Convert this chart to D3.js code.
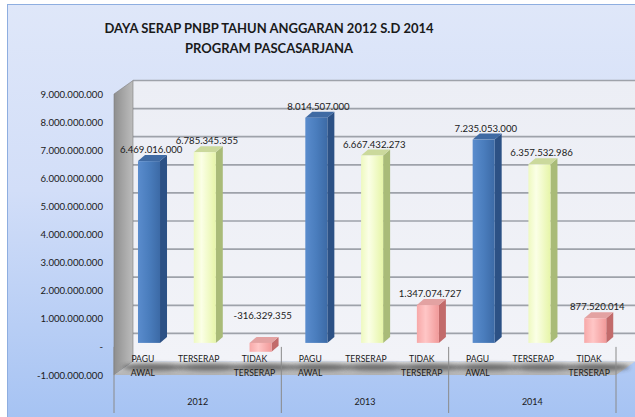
<!DOCTYPE html>
<html>
<head>
<meta charset="utf-8">
<script src="https://cdn.jsdelivr.net/npm/d3@7/dist/d3.min.js"></script>
<style>
  html, body { margin: 0; padding: 0; background: #ffffff; }
  svg { display: block; }
  text { font-family: Lato, "Open Sans", sans-serif; fill: #1a1a1a; }
</style>
</head>
<body>
<svg id="chart" width="635" height="417"></svg>
<script>
// --- data ---------------------------------------------------------------
const years = ["2012", "2013", "2014"];
const categories = ["PAGU AWAL", "TERSERAP", "TIDAK TERSERAP"];
const paguAwal = [6469016000, 8014507000, 7235053000];
const terserap = [6785345355, 6667432273, 6357532986];
const tidakTerserap = [-316329355, 1347074727, 877520014];
const yTicks = [-1e9, 0, 1e9, 2e9, 3e9, 4e9, 5e9, 6e9, 7e9, 8e9, 9e9];
const titleLines = ["DAYA SERAP PNBP TAHUN ANGGARAN 2012 S.D 2014", "PROGRAM PASCASARJANA"];

// --- layout -------------------------------------------------------------
const W = 635, H = 417;
const X0 = 114, X1 = 616;     // front plane of the plot
const DX = 19, DY = -13.5;    // depth of the 3D walls
const BDX = 7, BDY = -6;      // depth of each column
const FX = 0, FY = -4;        // columns sit slightly behind the front plane

const svg = d3.select("#chart");
const defs = svg.append("defs");

const locale = d3.formatLocale({ decimal: ",", thousands: ".", grouping: [3], currency: ["", ""], minus: "-" });
const fmt = locale.format(",d");

const rows = [];
years.forEach((yr, i) => {
  const vals = [paguAwal[i], terserap[i], tidakTerserap[i]];
  categories.forEach((c, j) => rows.push({ key: yr + "|" + c, year: yr, cat: c, s: j, v: vals[j] }));
});

const x = d3.scaleBand().domain(rows.map(d => d.key)).range([X0, X1]).padding(0);
const y = d3.scaleLinear().domain([-1e9, 9e9]).range([375, 94]);
const bw = x.bandwidth();

// --- gradients ----------------------------------------------------------
function linGrad(id, stops, x1, y1, x2, y2) {
  const g = defs.append("linearGradient").attr("id", id)
    .attr("x1", x1).attr("y1", y1).attr("x2", x2).attr("y2", y2);
  stops.forEach(([o, c]) => g.append("stop").attr("offset", o).attr("stop-color", c));
}
linGrad("bgGrad", [[0, "#dfe7f9"], [0.45, "#d2def8"], [1, "#a6c3f3"]], 0, 0, 0, 1);
linGrad("wallGrad", [[0, "#eceef5"], [1, "#f2f3f8"]], 0, 0, 0, 1);
linGrad("sideGrad", [[0, "#8e8e8e"], [0.5, "#a6a6a6"], [1, "#bcbcbc"]], 0, 0, 1, 0);
linGrad("floorGrad", [[0, "#d8d8d8"], [1, "#b4b4b4"]], 0, 0, 0, 1);

const palette = [
  { front: [["0", "#5a8ccd"], ["0.5", "#4a7dbd"], ["1", "#3c6aa6"]], side: "#2c5185", top: "#3f6aa3" },
  { front: [["0", "#eef9c0"], ["0.35", "#fbffe6"], ["1", "#e6f5a8"]], side: "#a9bb78", top: "#cbd99c" },
  { front: [["0", "#f7a8a8"], ["0.4", "#ffc6c6"], ["1", "#f19999"]], side: "#c26b6b", top: "#e3a2a2" }
];
palette.forEach((p, i) => linGrad("barFront" + i, p.front, 0, 0, 1, 0));

const blur = defs.append("filter").attr("id", "soft").attr("x", "-50%").attr("y", "-100%").attr("width", "200%").attr("height", "300%");
blur.append("feGaussianBlur").attr("stdDeviation", 2.2);

// --- panel --------------------------------------------------------------
svg.append("rect").attr("x", 7.5).attr("y", 4.5).attr("width", W - 7).attr("height", H - 4)
  .attr("fill", "url(#bgGrad)").attr("stroke", "#8eaee0").attr("stroke-width", 1);

// title
svg.append("g").selectAll("text").data(titleLines).join("text")
  .attr("x", 269).attr("y", (d, i) => 33 + i * 20)
  .attr("text-anchor", "middle").attr("font-size", 13).attr("font-weight", "bold")
  .attr("fill", "#1a1a1a").text(d => d);

// --- walls --------------------------------------------------------------
const yTop = y(9e9), yBot = y(-1e9);
svg.append("rect").attr("x", X0 + DX).attr("y", yTop + DY).attr("width", X1 - X0)
  .attr("height", yBot - yTop).attr("fill", "url(#wallGrad)");

svg.append("g").selectAll("line").data(yTicks.filter(t => t > -1e9)).join("line")
  .attr("x1", X0 + DX).attr("x2", X1 + DX)
  .attr("y1", d => y(d) + DY).attr("y2", d => y(d) + DY)
  .attr("stroke", "#9ea2aa").attr("stroke-width", 1.7);

svg.append("path")
  .attr("d", `M${X0},${yTop} L${X0 + DX},${yTop + DY} L${X0 + DX},${yBot + DY} L${X0},${yBot} Z`)
  .attr("fill", "url(#sideGrad)").attr("stroke", "#7d7d7d").attr("stroke-width", 0.6);

svg.append("path")
  .attr("d", `M${X0},${yBot} L${X0 + DX},${yBot + DY} L${X1 + DX},${yBot + DY} L${X1},${yBot} Z`)
  .attr("fill", "url(#floorGrad)");

// shadows cast by the columns on the floor
svg.append("g").selectAll("ellipse").data(rows).join("ellipse")
  .attr("cx", d => x(d.key) + bw * 0.55 + 8)
  .attr("cy", yBot + DY / 2 - 1)
  .attr("rx", bw * 0.55).attr("ry", 3.5)
  .attr("fill", "#2e2e2e").attr("opacity", 0.6).attr("filter", "url(#soft)");

// --- columns ------------------------------------------------------------
const bars = svg.append("g").selectAll("g").data(rows).join("g");
bars.each(function (d) {
  const g = d3.select(this);
  const p = palette[d.s];
  const left = x(d.key) + bw * 0.43 + FX;
  const w = bw * 0.395;
  const yt = y(Math.max(d.v, 0)) + FY;
  const yb = y(Math.min(d.v, 0)) + FY;
  // right side face
  g.append("path")
    .attr("d", `M${left + w},${yt} L${left + w + BDX},${yt + BDY} L${left + w + BDX},${yb + BDY} L${left + w},${yb} Z`)
    .attr("fill", p.side);
  // top face
  g.append("path")
    .attr("d", `M${left},${yt} L${left + BDX},${yt + BDY} L${left + w + BDX},${yt + BDY} L${left + w},${yt} Z`)
    .attr("fill", p.top);
  // front face
  g.append("rect").attr("x", left).attr("y", yt).attr("width", w).attr("height", Math.max(yb - yt, 0.5))
    .attr("fill", `url(#barFront${d.s})`);
});

// value labels
svg.append("g").selectAll("text").data(rows).join("text")
  .attr("x", d => x(d.key) + bw * 0.43 + bw * 0.2 + 2)
  .attr("y", d => d.v >= 0 ? y(d.v) + FY - 8 : y(0) + FY - 24)
  .attr("text-anchor", "middle").attr("font-size", 9.6)
  .text(d => fmt(d.v));

// --- value axis ---------------------------------------------------------
const yAxis = d3.axisLeft(y).tickValues(yTicks).tickSize(0).tickPadding(11)
  .tickFormat(d => d === 0 ? "-" : fmt(d));
svg.append("g").attr("transform", `translate(${X0},0)`).call(yAxis)
  .call(g => g.select(".domain").remove())
  .call(g => g.selectAll("text").attr("font-size", 9.6).attr("font-family", "Lato, sans-serif").attr("fill", "#1a1a1a"));

// --- category axis ------------------------------------------------------
const groupEdges = [X0].concat(years.map((yr, i) => x(rows[i * 3 + 2].key) + bw));
svg.append("g").selectAll("line").data(groupEdges).join("line")
  .attr("x1", d => d).attr("x2", d => d)
  .attr("y1", y(0)).attr("y2", 413)
  .attr("stroke", "#8a8a8a").attr("stroke-width", 1);

const catLabels = svg.append("g").selectAll("text").data(rows).join("text")
  .attr("text-anchor", "middle").attr("font-size", 8.6).attr("fill", "#262626");
catLabels.each(function (d) {
  const parts = d.cat.split(" ");
  d3.select(this).selectAll("tspan").data(parts).join("tspan")
    .attr("x", x(d.key) + bw / 2 + 1)
    .attr("y", (p, k) => 362 + k * 14)
    .text(p => p);
});

svg.append("g").selectAll("text").data(years).join("text")
  .attr("x", (yr, i) => (groupEdges[i] + groupEdges[i + 1]) / 2)
  .attr("y", 405)
  .attr("text-anchor", "middle").attr("font-size", 9)
  .text(d => d);
</script>
</body>
</html>
